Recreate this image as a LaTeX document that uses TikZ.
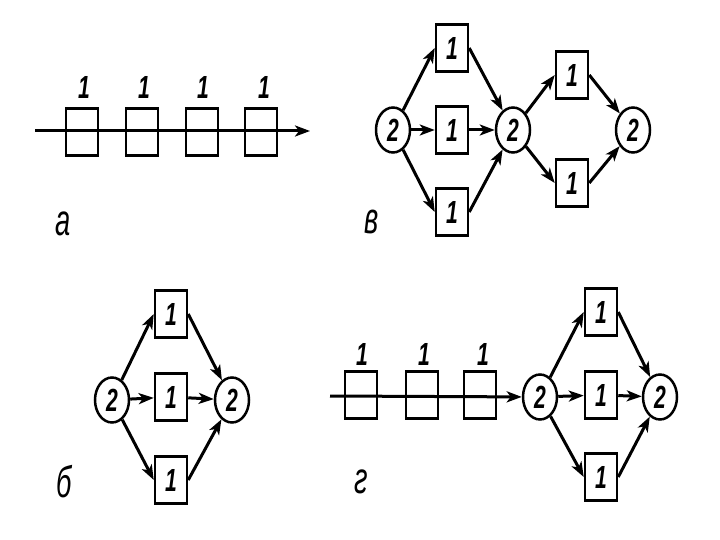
\documentclass[tikz,border=0pt]{standalone}
\usepackage{fontspec}
\setmainfont{Liberation Sans}
\usetikzlibrary{arrows.meta,shapes.geometric}
\newcommand\dgfont{\fontsize{32}{32}\selectfont\bfseries\itshape}
\newcommand\dg[1]{\scalebox{0.66}[1]{#1}}
\newcommand\ltrfont{\fontsize{44}{44}\selectfont\itshape}
\newcommand\ltr[1]{\scalebox{0.62}[1]{#1}}
\tikzset{
  box/.style={draw, line width=2.5pt, minimum width=32pt, minimum height=47pt, inner sep=0pt, font=\dgfont},
  circ/.style={draw, ellipse, line width=2.5pt, minimum width=34pt, minimum height=45pt, inner sep=0pt, font=\dgfont},
  arr/.style={line width=3pt, -{Stealth[length=15pt,width=11pt,inset=4pt]}},
  num/.style={font=\dgfont, inner sep=0pt},
  lab/.style={font=\ltrfont, inner sep=0pt}
}
\begin{document}
\begin{tikzpicture}[x=1pt,y=-1pt]
\fill[white] (0,0) rectangle (720,540);
\useasboundingbox (0,0) rectangle (720,540);

% ---- panel a
\coordinate (as) at (35,131);
\coordinate (ae) at (310,131);
\node[box] (a1) at (82,132) {};
\node[box] (a2) at (142,132) {};
\node[box] (a3) at (202,132) {};
\node[box] (a4) at (261,132) {};
\draw[arr] (as) -- (ae);
\node[num] (la1) at (84,87) {\dg{1}};
\node[num] (la2) at (144,87) {\dg{1}};
\node[num] (la3) at (203,87) {\dg{1}};
\node[num] (la4) at (264,87) {\dg{1}};
\node[lab] (ta) at (63,224) {\ltr{а}};

% ---- panel v
\node[circ] (v0) at (393,130) {\dg{2}};
\node[box] (vt) at (452,48) {\dg{1}};
\node[box] (vm) at (452,130) {\dg{1}};
\node[box] (vb) at (452,212) {\dg{1}};
\node[circ] (v1) at (513,130) {\dg{2}};
\node[box] (vrt) at (572,75) {\dg{1}};
\node[box] (vrb) at (572,183) {\dg{1}};
\node[circ] (v2) at (633,130) {\dg{2}};
\draw[arr] (v0) -- (vt.west);
\draw[arr] (v0) -- (vm);
\draw[arr] (v0) -- (vb.west);
\draw[arr] (vt.east) -- (v1);
\draw[arr] (vm) -- (v1);
\draw[arr] (vb.east) -- (v1);
\draw[arr] (v1) -- (vrt.west);
\draw[arr] (v1) -- (vrb.west);
\draw[arr] (vrt.east) -- (v2);
\draw[arr] (vrb.east) -- (v2);
\node[lab] (tv) at (372,222) {\ltr{в}};

% ---- panel b
\node[circ] (b0) at (112,400) {\dg{2}};
\node[box] (bt) at (171,314) {\dg{1}};
\node[box] (bm) at (171,397) {\dg{1}};
\node[box] (bb) at (171,480) {\dg{1}};
\node[circ] (b1) at (232,400) {\dg{2}};
\draw[arr] (b0) -- (bt.west);
\draw[arr] (b0) -- (bm);
\draw[arr] (b0) -- (bb.west);
\draw[arr] (bt.east) -- (b1);
\draw[arr] (bm) -- (b1);
\draw[arr] (bb.east) -- (b1);
\node[lab] (tb) at (64,482) {\ltr{б}};

% ---- panel g
\coordinate (gs) at (330,396);
\node[box] (g1) at (361,395) {};
\node[box] (g2) at (422,395) {};
\node[box] (g3) at (480,395) {};
\node[circ] (gL) at (540,397) {\dg{2}};
\node[box] (gt) at (601,312) {\dg{1}};
\node[box] (gm) at (601,395) {\dg{1}};
\node[box] (gb) at (601,477) {\dg{1}};
\node[circ] (gR) at (660,397) {\dg{2}};
\draw[arr] (gs) -- (gL);
\draw[arr] (gL) -- (gt.west);
\draw[arr] (gL) -- (gm);
\draw[arr] (gL) -- (gb.west);
\draw[arr] (gt.east) -- (gR);
\draw[arr] (gm) -- (gR);
\draw[arr] (gb.east) -- (gR);
\node[num] (lg1) at (362,354) {\dg{1}};
\node[num] (lg2) at (424,354) {\dg{1}};
\node[num] (lg3) at (483,354) {\dg{1}};
\node[lab] (tg) at (361,482) {\ltr{г}};
\end{tikzpicture}
\end{document}
